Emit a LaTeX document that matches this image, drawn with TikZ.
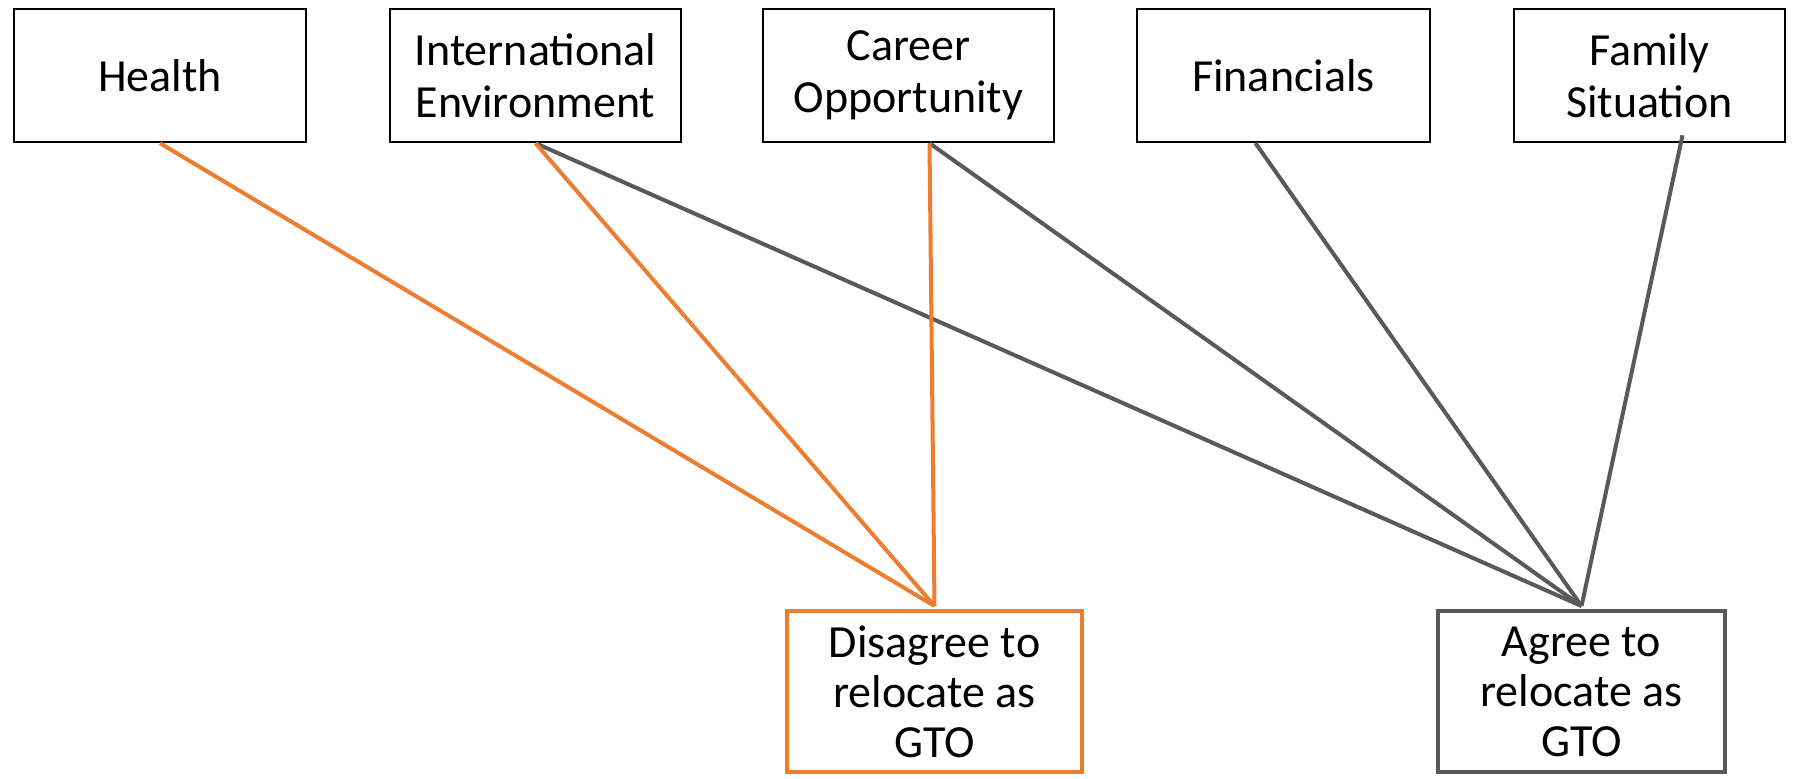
\documentclass[tikz,border=0pt]{standalone}
\usepackage{fontspec}
\setmainfont{Carlito}
\definecolor{orng}{HTML}{ED7D31}
\definecolor{gry}{HTML}{595959}
\begin{document}
\begin{tikzpicture}[x=0.5pt,y=-0.5pt,
  topbox/.style={draw=black, line width=1.2pt, minimum height=66.5pt, align=center, inner sep=0pt,
    font=\fontsize{23}{26}\selectfont},
  botbox/.style={line width=2pt, minimum height=80.5pt, align=center, inner sep=0pt,
    font=\fontsize{23}{25}\selectfont},
  oline/.style={draw=orng, line width=2pt},
  gline/.style={draw=gry, line width=2pt}]
\fill[white] (0,0) rectangle (1798,778);
\useasboundingbox (0,0) rectangle (1798,778);
\node[topbox, minimum width=146pt] (health) at (160,75.5) {Health};
\node[topbox, minimum width=145.5pt] (intenv) at (535.5,75.5) {International\\Environment};
\node[topbox, minimum width=145.5pt] (career) at (908.5,75.5) {Career\\Opportunity};
\node[topbox, minimum width=146.5pt] (fin) at (1283.5,75.5) {Financials};
\node[topbox, minimum width=135.5pt] (family) at (1649.5,75.5) {Family\\Situation};
\node[botbox, draw=orng, minimum width=147.5pt] (dis) at (934.5,691.5) {Disagree to\\relocate as\\GTO};
\node[botbox, draw=gry, minimum width=143.5pt] (agr) at (1581.5,691.5) {Agree to\\relocate as\\GTO};
\coordinate (careerout) at ([xshift=10.5pt]career.south);
\coordinate (finout) at ([xshift=-14pt]fin.south);
\coordinate (famout) at ([xshift=16.5pt,yshift=4pt]family.south);
\coordinate (disin) at ([yshift=1.5pt]dis.north);
\coordinate (agrin) at ([yshift=1.5pt]agr.north);
\draw[gline] (intenv.south) -- (agrin);
\draw[gline] (careerout) -- (agrin);
\draw[gline] (finout) -- (agrin);
\draw[gline] (famout) -- (agrin);
\draw[oline] (health.south) -- (disin);
\draw[oline] (intenv.south) -- (disin);
\draw[oline] (careerout) -- (disin);
\end{tikzpicture}
\end{document}
